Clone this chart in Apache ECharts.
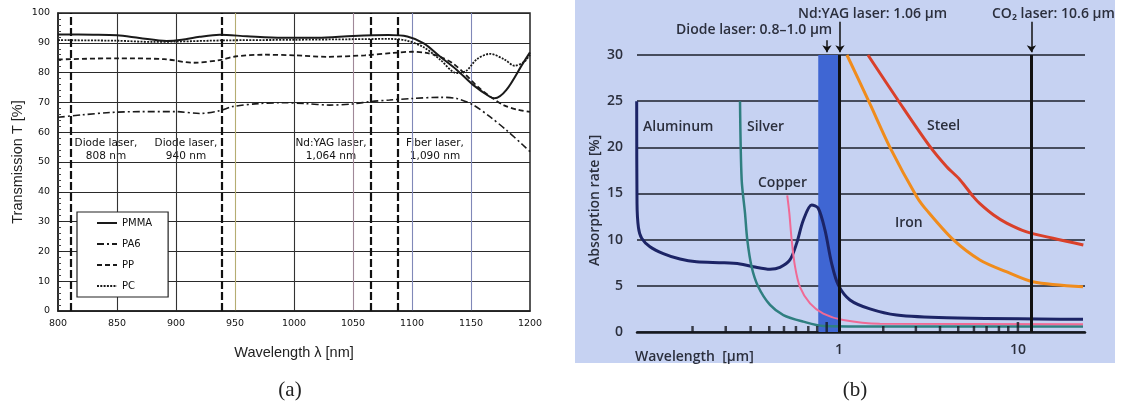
<!DOCTYPE html>
<html>
<head>
<meta charset="utf-8">
<script src="https://cdn.jsdelivr.net/npm/echarts@6/dist/echarts.min.js"></script>
<style>
html, body { margin: 0; padding: 0; background: #fff; }
#chart { width: 1122px; height: 413px; }
</style>
</head>
<body>
<div id="chart"></div>
<script>
// ---- (a) transmission of polymers, [wavelength nm, T %] ----
const pmmaData = [[800, 92.8], [830, 92.7], [850, 92.5], [869, 91.6], [892, 90.6], [905, 91], [920, 92], [937, 92.7], [960, 92.2], [990, 91.7], [1020, 91.7], [1050, 92.3], [1080, 92.6], [1096, 92.1], [1110, 89.8], [1124, 85.3], [1138, 80.9], [1152, 75.8], [1166, 71.9], [1170, 71.4], [1180, 74.2], [1194, 83.1], [1200, 86.8]]
const pa6Data = [[800, 65], [820, 65.8], [844, 66.6], [870, 66.9], [900, 66.9], [920, 66.3], [937, 67.2], [948, 68.6], [970, 69.6], [990, 69.9], [1010, 69.6], [1030, 69.1], [1050, 69.5], [1065, 70.3], [1081, 70.8], [1100, 71.3], [1124, 71.7], [1138, 71.3], [1152, 69.1], [1166, 65.2], [1180, 60.7], [1194, 55.7], [1200, 53.5]]
const ppData = [[800, 84.4], [850, 84.8], [890, 84.5], [915, 83.3], [937, 84.2], [950, 85.4], [975, 86], [1000, 85.8], [1028, 85.3], [1060, 85.8], [1084, 86.6], [1100, 87], [1112, 86.6], [1124, 85.3], [1135, 83], [1145, 79.5], [1155, 75.5], [1165, 72.3], [1178, 69], [1190, 67.5], [1200, 66.8]]
const pcData = [[800, 90.9], [850, 90.7], [880, 90.3], [900, 90.4], [940, 90.8], [1000, 91], [1050, 91.2], [1080, 91.3], [1095, 90.8], [1110, 88.5], [1124, 84.3], [1138, 79.8], [1146, 80.6], [1155, 84.5], [1166, 86.3], [1178, 84.5], [1187, 82.3], [1195, 83.6], [1200, 86]]
// laser lines as drawn in (a), nm
const laserLinesA = [811, 939, 1065, 1088]

// ---- (b) absorption of metals, [wavelength µm, A %] ----
const aluminumData = [[0.0741, 25], [0.0744, 14], [0.0758, 11.3], [0.079, 10.15], [0.0879, 9.24], [0.1043, 8.5], [0.1294, 7.9], [0.16, 7.6], [0.226, 7.5], [0.28, 7.37], [0.332, 7.07], [0.412, 6.79], [0.468, 7.0], [0.532, 7.8], [0.58, 9.6], [0.632, 12.1], [0.704, 13.76], [0.766, 13.4], [0.835, 11.05], [0.91, 7.44], [0.991, 5.1], [1.152, 3.47], [1.49, 2.5], [2.1, 1.84], [4.0, 1.55], [23.1, 1.38]]
const silverData = [[0.28, 25], [0.286, 16.5], [0.2985, 12.9], [0.3075, 9.97], [0.325, 7.07], [0.354, 4.9], [0.412, 2.93], [0.489, 1.84], [0.632, 1.12], [0.817, 0.65], [1.5, 0.6], [23.1, 0.6]]
const copperData = [[0.514, 14.8], [0.528, 12.9], [0.544, 10], [0.568, 7.1], [0.605, 4.9], [0.689, 3.1], [0.817, 2.0], [1.057, 1.3], [1.69, 0.9], [23.1, 0.85]]
const ironData = [[1.108, 30], [1.49, 24.7], [1.927, 20], [2.72, 14.66], [3.09, 13.2], [4.35, 10], [6.13, 7.8], [8.68, 6.5], [12.1, 5.45], [23.1, 4.9]]
const steelData = [[1.452, 30], [2.19, 24.8], [3.22, 20.1], [4.0, 17.9], [4.74, 16.5], [5.63, 14.66], [6.13, 13.9], [7.28, 12.7], [8.65, 11.8], [11.19, 10.85], [15.7, 10.15], [23.2, 9.43]]
// laser marks as drawn in (b), µm
const diodeBand = [0.766, 1.0]
const laserLinesB = [1.013, 11.9]
const arrowsB = [[0.857, 31.6], [1.013, 33.6], [11.9, 33.6]]
// small tick marks on the wavelength axis of (b)
const smallTicksB = [0.152, 0.233, 0.321, 0.408, 0.493, 0.575, 0.674, 0.756, 1.768, 2.69, 3.67, 4.64, 5.68, 6.68, 7.83, 8.83]
const tallTicksB = [0.854, 10]

const chart = echarts.init(document.getElementById('chart'))

const ink = '#1a1a1a'
const inkB = '#2b2f3d'
const fontB = '"Open Sans", sans-serif'

const lineA = (name, data, width, type) => ({
    name: name,
    type: 'line',
    xAxisIndex: 0,
    yAxisIndex: 0,
    data: data,
    symbol: 'circle',
    showSymbol: false,
    smooth: 0.3,
    lineStyle: { color: ink, width: width, type: type },
    itemStyle: { color: ink },
    z: 4
})

const lineB = (data, color, width) => ({
    type: 'line',
    xAxisIndex: 1,
    yAxisIndex: 1,
    data: data,
    symbol: 'none',
    smooth: 0.3,
    lineStyle: { color: color, width: width },
    z: 4
})

const textB = (text, x, y, extra) => Object.assign({
    type: 'text', x: x, y: y,
    style: { text: text, fill: inkB, font: '600 14px ' + fontB, verticalAlign: 'middle', textVerticalAlign: 'middle' }
}, extra || {})

const textA = (text, x, y) => ({
    type: 'text', x: x, y: y,
    style: { text: text, fill: '#111', font: '10.5px "DejaVu Sans"', align: 'center', textAlign: 'center', verticalAlign: 'middle', textVerticalAlign: 'middle' }
})

const option = {
    animation: false,
    textStyle: { fontFamily: 'DejaVu Sans' },
    grid: [
        { left: 58, top: 13, width: 472, height: 298, show: true, borderColor: '#222', borderWidth: 1.5 },
        { left: 637, top: 55, width: 448, height: 277 },
        // strip above (b) holding the laser arrows
        { left: 637, top: 15, width: 448, height: 40 }
    ],
    legend: {
        data: ['PMMA', 'PA6', 'PP', 'PC'],
        orient: 'vertical',
        left: 77,
        top: 212,
        padding: [6, 16, 6, 19],
        itemWidth: 20,
        itemHeight: 10,
        itemGap: 11,
        backgroundColor: '#fff',
        borderColor: '#222',
        borderWidth: 1.2,
        borderRadius: 0,
        itemStyle: { color: 'rgba(0,0,0,0)', borderColor: 'rgba(0,0,0,0)', borderWidth: 0 },
        textStyle: { fontSize: 10, color: '#111', fontFamily: 'DejaVu Sans' }
    },
    xAxis: [
        {
            gridIndex: 0, type: 'value', min: 800, max: 1200, interval: 50,
            axisLine: { lineStyle: { color: '#222', width: 1.5 } },
            axisTick: { show: false },
            axisLabel: { fontSize: 9.5, color: '#111', margin: 8, formatter: v => String(v) },
            splitLine: {
                show: true, showMinLine: false, showMaxLine: false,
                lineStyle: { color: ['#333', '#333', '#b5ad72', '#333', '#a08898', '#8088b8', '#8088b8'], width: 1.1 }
            },
            name: 'Wavelength λ [nm]', nameLocation: 'middle', nameGap: 34,
            nameTextStyle: { fontFamily: 'Liberation Sans', fontSize: 14.5, color: '#222' }
        },
        {
            gridIndex: 1, type: 'log', logBase: 10, min: 0.0744, max: 23.7,
            axisLine: { show: true, onZero: false, lineStyle: { color: '#15181f', width: 2.5 } },
            axisTick: { show: false },
            minorTick: { show: false },
            splitLine: { show: false },
            minorSplitLine: { show: false },
            axisLabel: {
                fontFamily: fontB, fontWeight: 600, fontSize: 14, color: inkB, margin: 11,
                showMinLabel: true, showMaxLabel: true,
                formatter: v => (Math.abs(v - 1) < 1e-6 || Math.abs(v - 10) < 1e-5) ? String(Math.round(v)) : ''
            }
        },
        {
            gridIndex: 2, type: 'log', logBase: 10, min: 0.0744, max: 23.7, show: false
        }
    ],
    yAxis: [
        {
            gridIndex: 0, type: 'value', min: 0, max: 100, interval: 10,
            axisLine: { show: true, lineStyle: { color: '#222', width: 1.5 } },
            axisTick: { show: true, inside: true, length: 4, lineStyle: { color: '#222' } },
            minorTick: { show: true, splitNumber: 5, length: 3, lineStyle: { color: '#444' } },
            axisLabel: { fontSize: 9.5, color: '#111', margin: 8 },
            splitLine: { lineStyle: { color: '#2a2a2a', width: 1.1 } },
            name: 'Transmission T [%]', nameLocation: 'middle', nameGap: 33,
            nameTextStyle: { fontFamily: 'Liberation Sans', fontSize: 14.5, color: '#222' }
        },
        {
            gridIndex: 1, type: 'value', min: 0, max: 30, interval: 5,
            axisLine: { show: false },
            axisTick: { show: false },
            axisLabel: { fontFamily: fontB, fontWeight: 600, fontSize: 14, color: inkB, margin: 14 },
            splitLine: { lineStyle: { color: '#1b1f2b', width: 1.5 } }
        },
        {
            // same units as the absorption axis, continued above 30
            gridIndex: 2, type: 'value', min: 30, max: 34.33, show: false
        }
    ],
    series: [
        lineA('PMMA', pmmaData, 2, 'solid'),
        lineA('PA6', pa6Data, 1.6, [7, 3, 2, 3]),
        lineA('PP', ppData, 1.8, [5, 3]),
        lineA('PC', pcData, 1.8, [2, 1.3]),
        {
            type: 'line', xAxisIndex: 0, yAxisIndex: 0, data: [], z: 3,
            markLine: {
                silent: true, symbol: 'none', label: { show: false },
                lineStyle: { color: '#111', width: 2.2, type: [8, 3] },
                data: laserLinesA.map(v => ({ xAxis: v }))
            }
        },
        // diode band
        {
            type: 'line', xAxisIndex: 1, yAxisIndex: 1, data: [], z: 2,
            markArea: {
                silent: true, itemStyle: { color: '#3f66d3' },
                data: [[{ xAxis: diodeBand[0] }, { xAxis: diodeBand[1] }]]
            }
        },
        lineB(aluminumData, '#1c2466', 3),
        lineB(silverData, '#2f7f80', 2.5),
        lineB(copperData, '#f06a95', 2),
        lineB(ironData, '#f08c1c', 3),
        lineB(steelData, '#d9402a', 3),
        // laser lines and arrows
        {
            type: 'line', xAxisIndex: 1, yAxisIndex: 1, data: [], z: 5,
            markLine: {
                silent: true, symbol: 'none', label: { show: false },
                lineStyle: { color: '#111', width: 3, type: 'solid' },
                data: laserLinesB.map(v => ({ xAxis: v }))
            }
        },
        {
            type: 'line', xAxisIndex: 2, yAxisIndex: 2, data: [], z: 5,
            markLine: {
                silent: true, symbol: ['none', 'arrow'], symbolSize: 7, label: { show: false },
                lineStyle: { color: '#111', width: 1.5, type: 'solid' },
                data: arrowsB.map(a => [{ coord: [a[0], a[1]] }, { coord: [a[0], 30.3] }])
            }
        },
        {
            type: 'scatter', xAxisIndex: 1, yAxisIndex: 1, silent: true, z: 6,
            data: smallTicksB.map(v => [v, 0]),
            symbol: 'rect', symbolSize: [2.5, 6], symbolOffset: [0, -3],
            itemStyle: { color: '#15181f' }
        },
        {
            type: 'scatter', xAxisIndex: 1, yAxisIndex: 1, silent: true, z: 6,
            data: tallTicksB.map(v => [v, 0]),
            symbol: 'rect', symbolSize: [2.5, 10], symbolOffset: [0, -5],
            itemStyle: { color: '#15181f' }
        }
    ],
    graphic: [
        { type: 'rect', z: -1, shape: { x: 575, y: 0, width: 540, height: 363 }, style: { fill: '#c6d2f2' } },
        textA('Diode laser,', 106, 143), textA('808 nm', 106, 156),
        textA('Diode laser,', 186, 143), textA('940 nm', 186, 156),
        textA('Nd:YAG laser,', 331, 143), textA('1,064 nm', 331, 156),
        textA('Fiber laser,', 435, 143), textA('1,090 nm', 435, 156),
        textB('Nd:YAG laser: 1.06 µm', 798, 14),
        textB('Diode laser: 0.8–1.0 µm', 676, 30),
        textB('CO₂ laser: 10.6 µm', 992, 14),
        textB('Aluminum', 643, 127),
        textB('Silver', 747, 127),
        textB('Copper', 758, 183),
        textB('Steel', 927, 126),
        textB('Iron', 895, 223),
        textB('Wavelength  [µm]', 635, 357),
        textB('Absorption rate [%]', 595, 266, { rotation: Math.PI / 2 }),
        {
            type: 'text', x: 290, y: 390,
            style: { text: '(a)', fill: '#222', font: '21px "Liberation Serif"', align: 'center', textAlign: 'center', verticalAlign: 'middle', textVerticalAlign: 'middle' }
        },
        {
            type: 'text', x: 855, y: 390,
            style: { text: '(b)', fill: '#222', font: '21px "Liberation Serif"', align: 'center', textAlign: 'center', verticalAlign: 'middle', textVerticalAlign: 'middle' }
        }
    ]
}

chart.setOption(option)
</script>
</body>
</html>
